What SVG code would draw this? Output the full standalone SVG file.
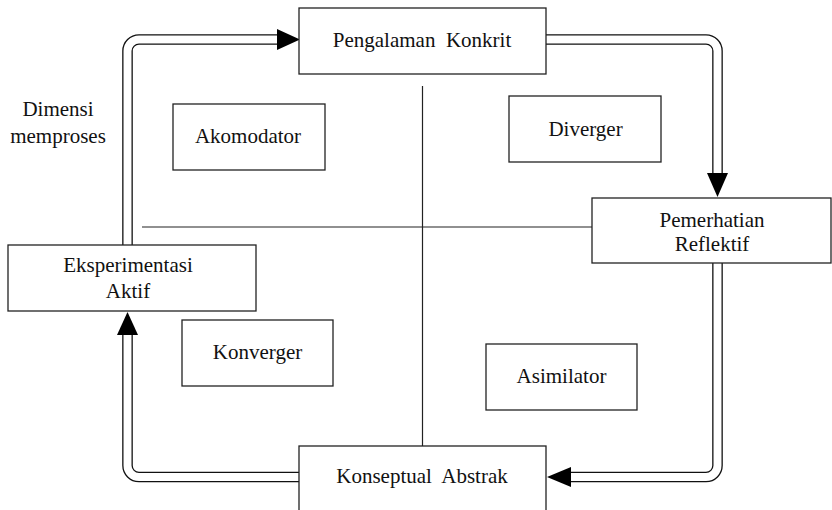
<svg xmlns="http://www.w3.org/2000/svg" width="832" height="510" viewBox="0 0 832 510">
<style>
.box{fill:#fff;stroke:#222;stroke-width:1.3}
text{font-family:'Liberation Serif','Times New Roman',Times,serif;font-size:21px;fill:#111;text-anchor:middle}
.outer{fill:none;stroke:#111;stroke-width:10.6;stroke-linecap:butt;stroke-linejoin:round}
.inner{fill:none;stroke:#fff;stroke-width:8;stroke-linecap:butt;stroke-linejoin:round}
.ax{stroke:#222;stroke-width:1.2}
.arr{fill:#000}
</style>
<rect width="832" height="510" fill="#fff"/>
<g id="axes">
<line class="ax" x1="142" y1="227" x2="592" y2="227"/>
<line class="ax" x1="422.5" y1="86" x2="422.5" y2="446"/>
</g>
<g id="connectors">
<path id="c1" class="outer" d="M127.5,245 V51 A11.5,11.5 0 0 1 139,39.5 H278"/>
<path class="inner" d="M127.5,245 V51 A11.5,11.5 0 0 1 139,39.5 H278"/>
<path id="c2" class="outer" d="M546,39.5 H706 A11.5,11.5 0 0 1 717.5,51 V174"/>
<path class="inner" d="M546,39.5 H706 A11.5,11.5 0 0 1 717.5,51 V174"/>
<path id="c3" class="outer" d="M717.5,263 V465.5 A11.5,11.5 0 0 1 706,477 H570"/>
<path class="inner" d="M717.5,263 V465.5 A11.5,11.5 0 0 1 706,477 H570"/>
<path id="c4" class="outer" d="M299,477 H139 A11.5,11.5 0 0 1 127.5,465.5 V334"/>
<path class="inner" d="M299,477 H139 A11.5,11.5 0 0 1 127.5,465.5 V334"/>
<polygon class="arr" points="277,29 300,39.5 277,50"/>
<polygon class="arr" points="707,173 728,173 717.5,197"/>
<polygon class="arr" points="571,467 571,487 547,477"/>
<polygon class="arr" points="117,335 138,335 127.5,312"/>
</g>
<g id="pengalaman">
<rect class="box" x="299" y="8" width="247" height="66"/>
<text x="422" y="47" xml:space="preserve">Pengalaman  Konkrit</text>
</g>
<g id="pemerhatian">
<rect class="box" x="592" y="198" width="239" height="65"/>
<text x="712" y="227">Pemerhatian</text>
<text x="712" y="251">Reflektif</text>
</g>
<g id="konseptual">
<rect class="box" x="299" y="446" width="247" height="80"/>
<text x="422" y="483" xml:space="preserve">Konseptual  Abstrak</text>
</g>
<g id="eksperimentasi">
<rect class="box" x="8" y="245" width="248" height="66"/>
<text x="128" y="272">Eksperimentasi</text>
<text x="128" y="298">Aktif</text>
</g>
<g id="akomodator">
<rect class="box" x="173" y="104" width="152" height="66"/>
<text x="248" y="143">Akomodator</text>
</g>
<g id="diverger">
<rect class="box" x="509" y="96" width="152" height="66"/>
<text x="585.5" y="136">Diverger</text>
</g>
<g id="konverger">
<rect class="box" x="182" y="320" width="151" height="66"/>
<text x="257.5" y="359">Konverger</text>
</g>
<g id="asimilator">
<rect class="box" x="486" y="344" width="151" height="66"/>
<text x="561.5" y="383">Asimilator</text>
</g>
<g id="dimensi">
<text x="58" y="116">Dimensi</text>
<text x="58" y="143">memproses</text>
</g>
</svg>
